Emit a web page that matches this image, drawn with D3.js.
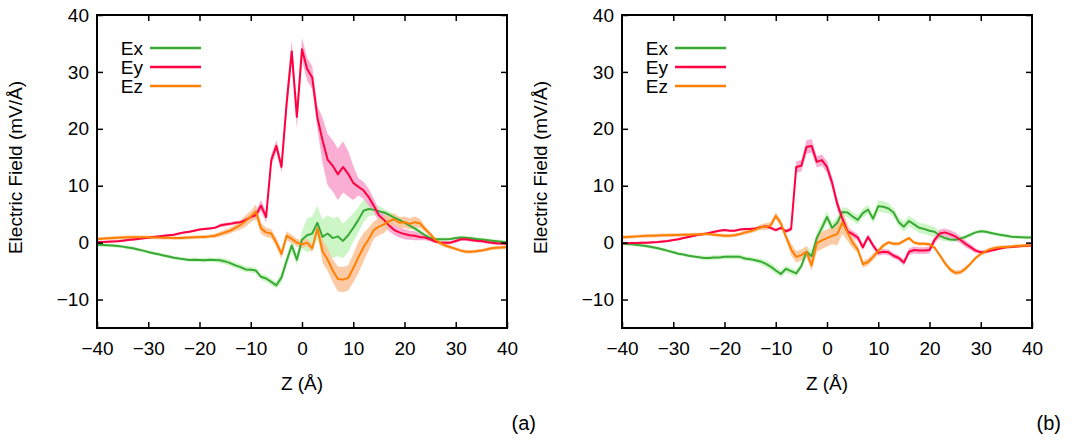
<!DOCTYPE html>
<html>
<head>
<meta charset="utf-8">
<script src="https://cdn.jsdelivr.net/npm/d3@7"></script>
<style>
  body { margin: 0; background: #fff; }
  svg text { font-family: "Liberation Sans", Arial, Helvetica, sans-serif; }
</style>
</head>
<body>
<svg id="main-chart"></svg>
<script>
// z positions (Å), shared by both panels
const zVals = [-40,-39,-38,-37,-36,-35,-34,-33,-32,-31,-30,-29,-28,-27,-26,-25,-24,-23,-22,-21,
  -20,-19,-18,-17,-16,-15,-14,-13,-12,-11,-10,-9,-8,-7,-6,-5,-4,-3,-2,-1,
  0,1,2,3,4,5,6,7,8,9,10,11,12,13,14,15,16,17,18,19,
  20,21,22,23,24,25,26,27,28,29,30,31,32,33,34,35,36,37,38,39,40];

const xTicks = [-40,-30,-20,-10,0,10,20,30,40];
const yTicks = [-10,0,10,20,30,40];
const seriesNames = ["Ex", "Ey", "Ez"];

// panel (a)
const exA = [-0.35,-0.4,-0.45,-0.5,-0.6,-0.7,-0.85,-1.0,-1.2,-1.4,-1.65,-1.85,-2.05,-2.25,-2.45,-2.65,-2.8,-2.9,-3.05,-3.0,
  -3.05,-3.1,-3.0,-3.05,-3.1,-3.3,-3.6,-4.0,-4.3,-4.7,-4.75,-4.9,-6.0,-6.3,-6.9,-7.5,-6.1,-3.2,-0.5,-3.0,
  0.5,1.3,1.6,3.5,1.0,1.6,0.8,1.1,0.3,1.3,2.6,4.0,5.6,5.9,5.8,5.5,5.3,4.9,4.4,4.0,
  3.5,3.0,2.5,1.9,1.3,0.8,0.6,0.6,0.6,0.65,0.8,0.9,0.85,0.75,0.65,0.55,0.45,0.35,0.25,0.15,0.05];
const exErrA = [0.3,0.3,0.3,0.3,0.3,0.3,0.3,0.3,0.3,0.3,0.3,0.3,0.3,0.3,0.3,0.3,0.3,0.3,0.3,0.4,
  0.4,0.4,0.4,0.4,0.5,0.5,0.5,0.5,0.5,0.5,0.5,0.5,0.5,0.6,0.6,0.6,1.0,1.0,1.0,1.0,
  1.5,3.0,3.0,3.0,3.0,3.2,3.5,3.5,3.0,3.0,2.5,2.2,2.0,1.2,1.0,1.0,0.6,0.6,0.6,0.5,
  0.5,0.5,0.4,0.4,0.4,0.3,0.3,0.3,0.3,0.3,0.3,0.3,0.3,0.3,0.3,0.3,0.3,0.3,0.3,0.3,0.3];
const eyA = [0.05,0.1,0.15,0.2,0.25,0.35,0.45,0.55,0.65,0.75,0.85,1.0,1.1,1.2,1.3,1.4,1.6,1.8,1.9,2.1,
  2.3,2.4,2.5,2.6,3.0,3.2,3.3,3.5,3.6,4.0,4.5,4.8,6.5,4.5,14.5,17.0,13.3,24.5,33.6,22.1,
  34.0,30.5,29.0,22.0,18.0,14.6,13.5,12.0,13.3,12.1,10.5,9.8,9.2,8.0,6.5,4.8,4.0,3.0,2.2,1.8,
  1.5,1.3,1.2,1.0,0.9,0.6,0.2,0.0,0.0,0.0,0.3,0.6,0.6,0.45,0.35,0.3,0.1,0.0,-0.1,-0.15,-0.2];
const eyErrA = [0.2,0.2,0.2,0.2,0.2,0.2,0.2,0.2,0.2,0.2,0.2,0.2,0.2,0.2,0.2,0.2,0.2,0.2,0.2,0.2,
  0.2,0.2,0.2,0.2,0.3,0.3,0.3,0.3,0.3,0.4,0.5,0.8,1.0,1.0,1.0,1.0,1.0,2.0,2.0,2.0,
  2.0,2.0,2.0,2.0,4.0,4.5,4.5,4.5,4.5,4.0,3.0,1.5,1.5,1.5,1.2,1.0,1.0,1.0,0.9,0.9,
  0.9,0.8,0.8,0.6,0.5,0.4,0.3,0.3,0.3,0.3,0.3,0.3,0.3,0.3,0.3,0.3,0.3,0.3,0.3,0.3,0.3];
const ezA = [0.65,0.7,0.75,0.8,0.85,0.9,0.95,0.95,0.95,0.95,0.95,0.9,0.9,0.85,0.85,0.8,0.8,0.85,0.9,0.95,
  1.0,1.0,1.1,1.2,1.5,1.8,2.1,2.6,3.1,3.8,4.6,5.5,2.5,1.8,1.6,0.0,-2.0,1.2,0.65,0.0,
  -0.3,0.0,-1.0,2.5,-1.5,-3.0,-4.9,-6.4,-6.5,-6.2,-4.5,-2.6,-0.8,0.6,2.2,2.8,3.2,3.8,4.1,3.5,
  3.6,3.3,3.6,3.4,2.4,1.5,0.5,-0.1,-0.5,-0.8,-1.1,-1.4,-1.6,-1.6,-1.5,-1.4,-1.2,-1.0,-0.9,-0.85,-0.8];
const ezErrA = [0.3,0.3,0.3,0.3,0.3,0.3,0.3,0.3,0.3,0.3,0.3,0.3,0.3,0.3,0.3,0.3,0.3,0.3,0.3,0.3,
  0.3,0.3,0.3,0.4,0.4,0.5,0.5,0.6,0.8,1.0,1.0,1.2,1.0,0.8,0.8,0.8,0.8,0.8,0.7,0.7,
  0.7,0.7,0.7,0.7,2.0,2.0,2.0,2.2,2.2,2.2,2.5,2.8,2.5,2.0,1.5,1.5,1.5,1.2,1.0,1.0,
  1.0,1.0,1.0,0.8,0.5,0.4,0.4,0.4,0.4,0.3,0.3,0.3,0.3,0.3,0.3,0.3,0.3,0.3,0.3,0.3,0.3];

// panel (b)
const exB = [-0.2,-0.25,-0.3,-0.4,-0.5,-0.65,-0.8,-1.0,-1.2,-1.45,-1.7,-1.95,-2.1,-2.3,-2.45,-2.55,-2.7,-2.7,-2.6,-2.6,
  -2.5,-2.5,-2.5,-2.5,-2.8,-2.9,-3.1,-3.3,-3.7,-4.2,-4.9,-5.5,-4.6,-5.0,-5.4,-4.1,-1.6,-2.4,0.8,2.6,
  4.5,2.6,3.5,5.4,5.3,4.6,4.0,5.2,5.8,4.2,6.4,6.3,6.0,5.3,3.6,2.8,3.8,3.2,2.6,2.4,
  2.1,1.9,1.2,0.8,0.55,0.5,0.7,1.0,1.4,1.8,2.0,1.9,1.7,1.5,1.35,1.2,1.05,1.0,0.95,0.9,0.9];
const exErrB = [0.3,0.3,0.3,0.3,0.3,0.3,0.3,0.3,0.3,0.3,0.3,0.3,0.3,0.3,0.3,0.3,0.4,0.4,0.4,0.4,
  0.4,0.4,0.4,0.4,0.4,0.4,0.4,0.5,0.6,0.6,0.6,0.6,0.6,0.6,0.6,0.6,1.0,1.0,1.0,1.0,
  1.0,1.0,1.0,0.8,0.8,0.8,0.8,0.8,0.8,0.8,1.0,1.0,0.9,0.8,0.8,0.9,0.9,0.9,0.9,0.9,
  0.9,0.9,0.8,0.5,0.4,0.4,0.4,0.4,0.4,0.3,0.3,0.3,0.3,0.3,0.3,0.3,0.3,0.3,0.3,0.3,0.3];
const eyB = [-0.1,-0.1,-0.05,-0.05,0.0,0.0,0.05,0.1,0.2,0.3,0.45,0.6,0.8,1.0,1.2,1.4,1.5,1.7,1.9,2.1,
  2.2,2.1,2.1,2.3,2.4,2.4,2.5,2.7,2.9,2.6,2.2,2.6,2.0,2.4,13.3,13.5,16.8,17.0,14.2,14.5,
  13.3,10.5,6.8,4.2,2.0,1.5,0.9,-0.8,1.0,-0.5,-1.8,-1.6,-1.7,-2.3,-2.7,-3.5,-1.6,-1.3,-1.4,-1.4,
  -1.3,0.5,1.6,1.8,1.5,1.1,0.5,-0.2,-0.8,-1.4,-1.7,-1.6,-1.4,-1.2,-1.0,-0.8,-0.75,-0.7,-0.6,-0.55,-0.5];
const eyErrB = [0.2,0.2,0.2,0.2,0.2,0.2,0.2,0.2,0.2,0.2,0.2,0.2,0.2,0.2,0.2,0.2,0.2,0.2,0.2,0.2,
  0.2,0.2,0.2,0.2,0.2,0.2,0.2,0.2,0.3,0.3,0.3,0.3,0.3,0.4,1.0,1.0,1.2,1.2,1.0,1.0,
  1.0,1.0,1.0,0.8,0.8,0.6,0.6,0.6,0.5,0.5,0.5,0.5,0.5,0.5,0.5,0.5,0.6,0.6,0.6,0.6,
  0.6,0.6,0.7,0.7,0.7,0.7,0.6,0.6,0.5,0.4,0.3,0.3,0.3,0.2,0.2,0.2,0.2,0.2,0.2,0.2,0.2];
const ezB = [0.95,1.0,1.05,1.1,1.15,1.2,1.2,1.25,1.3,1.3,1.35,1.35,1.4,1.4,1.45,1.45,1.5,1.5,1.4,1.3,
  1.2,1.2,1.3,1.5,1.8,2.0,2.3,2.7,2.8,3.0,4.7,3.4,1.0,-1.2,-2.5,-2.2,-1.6,-4.0,-0.1,0.4,
  0.8,1.2,1.5,3.5,1.8,0.0,-1.2,-3.8,-3.4,-2.5,-1.5,-0.5,0.05,-0.2,-0.2,0.3,0.8,0.0,-0.2,-0.2,
  -0.3,-0.9,-2.2,-3.6,-4.7,-5.3,-5.2,-4.6,-3.7,-2.7,-2.0,-1.5,-1.1,-0.9,-0.8,-0.75,-0.7,-0.6,-0.55,-0.5,-0.5];
const ezErrB = [0.3,0.3,0.3,0.3,0.3,0.3,0.3,0.3,0.3,0.3,0.3,0.3,0.3,0.3,0.3,0.3,0.3,0.3,0.3,0.3,
  0.3,0.3,0.3,0.3,0.4,0.4,0.4,0.5,0.6,0.6,0.6,0.6,0.6,1.0,1.0,1.0,1.0,1.0,1.5,1.5,
  1.5,1.5,2.0,2.0,1.5,1.0,0.6,0.6,0.6,0.6,0.5,0.4,0.3,0.3,0.3,0.3,0.3,0.3,0.3,0.3,
  0.3,0.3,0.3,0.4,0.4,0.4,0.4,0.4,0.3,0.3,0.3,0.3,0.3,0.3,0.3,0.3,0.3,0.3,0.3,0.3,0.3];

const lineColors = ["#3aa935", "#ff0040", "#ff8000"];
const bandColors = ["#c4f5bc", "#f9a0cc", "#fbc295"];

const width = 1083;
const height = 441;
const fontSize = 19;

const svg = d3.select("#main-chart")
  .attr("width", width)
  .attr("height", height);

function drawPanel(left, right, tag, series) {
  const top = 15, bottom = 328;

  const x = d3.scaleLinear().domain([-40, 40]).range([left, right]);
  const y = d3.scaleLinear().domain([-15, 40]).range([bottom, top]);
  const fmt = d3.format("d");

  const g = svg.append("g");

  // error bands first, then the lines on top
  series.forEach((s, k) => {
    const area = d3.area()
      .x((d, i) => x(zVals[i]))
      .y0((d, i) => y(d - s.err[i]))
      .y1((d, i) => y(d + s.err[i]));
    g.append("path")
      .attr("d", area(s.vals))
      .attr("fill", bandColors[k])
      .attr("fill-opacity", 0.85);
  });

  series.forEach((s, k) => {
    const line = d3.line()
      .x((d, i) => x(zVals[i]))
      .y(d => y(d));
    g.append("path")
      .attr("d", line(s.vals))
      .attr("fill", "none")
      .attr("stroke", lineColors[k])
      .attr("stroke-width", 2)
      .attr("stroke-linejoin", "round");
  });

  // axes: ticks pointing inward on all four sides
  const styleAxis = a => a
    .call(a => a.select(".domain").remove())
    .call(a => a.selectAll(".tick line").attr("stroke", "#000").attr("stroke-width", 1.5))
    .call(a => a.selectAll(".tick text").attr("font-size", fontSize).attr("fill", "#000")
      .attr("font-family", "'Liberation Sans', Arial, sans-serif"));

  g.append("g")
    .attr("transform", `translate(0,${bottom})`)
    .call(d3.axisBottom(x).tickValues(xTicks).tickSize(-6).tickSizeOuter(0).tickPadding(14).tickFormat(fmt))
    .call(styleAxis);
  g.append("g")
    .attr("transform", `translate(0,${top})`)
    .call(d3.axisTop(x).tickValues(xTicks.slice(1, -1)).tickSize(-6).tickSizeOuter(0).tickFormat(""))
    .call(styleAxis);
  g.append("g")
    .attr("transform", `translate(${left},0)`)
    .call(d3.axisLeft(y).tickValues(yTicks).tickSize(-6).tickSizeOuter(0).tickPadding(8).tickFormat(fmt))
    .call(styleAxis);
  g.append("g")
    .attr("transform", `translate(${right},0)`)
    .call(d3.axisRight(y).tickValues(yTicks).tickSize(-6).tickSizeOuter(0).tickFormat(""))
    .call(styleAxis);

  g.append("rect")
    .attr("x", left).attr("y", top)
    .attr("width", right - left).attr("height", bottom - top)
    .attr("fill", "none")
    .attr("stroke", "#000")
    .attr("stroke-width", 2);

  // legend
  series.forEach((s, k) => {
    const ly = 48 + k * 19;
    g.append("text")
      .attr("x", left + 46).attr("y", ly + 7)
      .attr("text-anchor", "end")
      .attr("font-size", fontSize)
      .text(seriesNames[k]);
    g.append("line")
      .attr("x1", left + 53).attr("x2", left + 104)
      .attr("y1", ly).attr("y2", ly)
      .attr("stroke", lineColors[k])
      .attr("stroke-width", 2.5);
  });

  g.append("text")
    .attr("x", (left + right) / 2).attr("y", 390)
    .attr("text-anchor", "middle")
    .attr("font-size", fontSize)
    .text("Z (Å)");

  g.append("text")
    .attr("transform", `translate(${left - 75},${(top + bottom) / 2 - 4}) rotate(-90)`)
    .attr("text-anchor", "middle")
    .attr("font-size", fontSize)
    .text("Electric Field (mV/Å)");

  g.append("text")
    .attr("x", right + 29).attr("y", 430)
    .attr("text-anchor", "end")
    .attr("font-size", 20)
    .text(tag);
}

drawPanel(97, 507, "(a)", [
  {vals: exA, err: exErrA},
  {vals: eyA, err: eyErrA},
  {vals: ezA, err: ezErrA}
]);

drawPanel(622, 1032, "(b)", [
  {vals: exB, err: exErrB},
  {vals: eyB, err: eyErrB},
  {vals: ezB, err: ezErrB}
]);
</script>
</body>
</html>
